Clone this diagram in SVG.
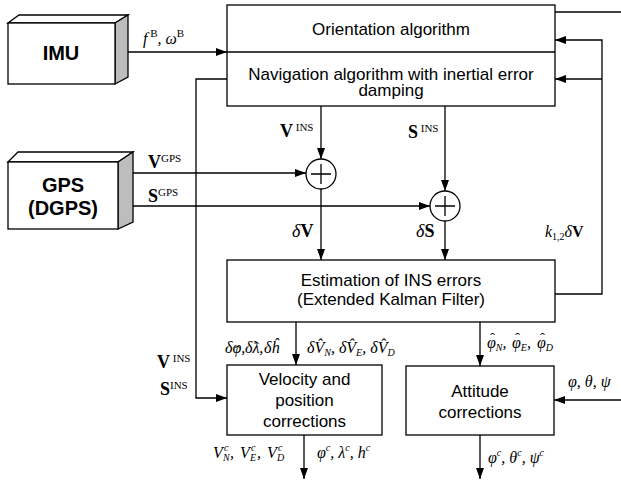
<svg xmlns="http://www.w3.org/2000/svg" width="621" height="483" viewBox="0 0 621 483">
<defs>
<marker id="ah" markerWidth="11" markerHeight="8" refX="11" refY="4" orient="auto" markerUnits="userSpaceOnUse"><path d="M0,0 L11,4 L0,8 z" fill="#000"/></marker>
<style>
.box{fill:#fff;stroke:#000;stroke-width:1.3}
.side{fill:#bdbdbd;stroke:#000;stroke-width:1.3}
.ln{fill:none;stroke:#000;stroke-width:1.3}
.arr{fill:none;stroke:#000;stroke-width:1.3;marker-end:url(#ah)}
.t{font-family:"Liberation Sans",Arial,sans-serif;font-size:17px;text-anchor:middle;fill:#000}
.b{font-family:"Liberation Sans",Arial,sans-serif;font-size:20px;font-weight:bold;text-anchor:middle;fill:#000}
.m{font-family:"Liberation Serif","Times New Roman",serif;font-size:16px;font-style:italic;fill:#000}
.mb{font-family:"Liberation Serif","Times New Roman",serif;font-size:18px;font-weight:bold;fill:#000}
.hat{font-size:15px;font-style:normal}
.sup{font-size:11px;font-style:normal;font-weight:normal}
.sub{font-size:10px}
</style>
</defs>
<g id="connectors">
<line class="arr" x1="123" y1="52" x2="227" y2="52"/>
<polyline class="ln" points="555,12 621,12"/>
<polyline class="arr" points="555,294 602,294 602,40 555,40"/>
<line class="arr" x1="602" y1="79" x2="555" y2="79"/>
<polyline class="arr" points="227,79 196,79 196,398 227,398"/>
<line class="arr" x1="321" y1="106" x2="321" y2="159"/>
<line class="arr" x1="445" y1="106" x2="445" y2="191"/>
<line class="arr" x1="125" y1="173" x2="306" y2="173"/>
<line class="arr" x1="125" y1="206" x2="430" y2="206"/>
<line class="arr" x1="321" y1="189" x2="321" y2="260"/>
<line class="arr" x1="445" y1="221" x2="445" y2="260"/>
<line class="arr" x1="296" y1="322" x2="296" y2="365"/>
<line class="arr" x1="480" y1="322" x2="480" y2="366"/>
<line class="arr" x1="621" y1="400" x2="554" y2="400"/>
<line class="arr" x1="304" y1="435" x2="304" y2="479"/>
<line class="arr" x1="480" y1="435" x2="480" y2="479"/>
</g>
<g id="imu">
<polygon class="box" points="8,23 19,15 128,15 115,23"/>
<polygon class="side" points="115,23 128,15 128,77 115,84"/>
<rect class="box" x="8" y="23" width="107" height="61"/>
<text class="b" x="61" y="60">IMU</text>
</g>
<g id="gps">
<polygon class="box" points="8,162 18,152 133,152 118,162"/>
<polygon class="side" points="118,162 133,152 133,222 118,229"/>
<rect class="box" x="8" y="162" width="110" height="67"/>
<text class="b" x="63" y="192">GPS</text>
<text class="b" x="63" y="215">(DGPS)</text>
</g>
<g id="main">
<rect class="box" x="227" y="5" width="328" height="101"/>
<line class="ln" x1="227" y1="52" x2="555" y2="52"/>
<text class="t" x="391" y="35">Orientation algorithm</text>
<text class="t" x="391" y="80">Navigation algorithm with inertial error</text>
<text class="t" x="391" y="96">damping</text>
</g>
<g id="sum1">
<circle class="box" cx="321" cy="174" r="15"/>
<path class="ln" d="M311,174 H331 M321,164 V184"/>
</g>
<g id="sum2">
<circle class="box" cx="445" cy="206" r="15"/>
<path class="ln" d="M435,206 H455 M445,196 V216"/>
</g>
<g id="ekf">
<rect class="box" x="227" y="260" width="328" height="62"/>
<text class="t" x="391" y="286">Estimation of INS errors</text>
<text class="t" x="391" y="305">(Extended Kalman Filter)</text>
</g>
<g id="velpos">
<rect class="box" x="227" y="365" width="155" height="70"/>
<text class="t" x="304.5" y="385">Velocity and</text>
<text class="t" x="304.5" y="406">position</text>
<text class="t" x="304.5" y="427">corrections</text>
</g>
<g id="attitude">
<rect class="box" x="406" y="366" width="148" height="69"/>
<text class="t" x="480" y="397">Attitude</text>
<text class="t" x="480" y="418">corrections</text>
</g>
<g id="labels">
<text class="m" x="143" y="44" font-size="17">f<tspan class="sup" font-style="italic" dy="-7"> B</tspan><tspan dy="7">, ω</tspan><tspan class="sup" font-style="italic" dy="-7">B</tspan></text>
<text class="mb" x="148" y="168">V<tspan class="sup" dy="-6">GPS</tspan></text>
<text class="mb" x="148" y="202">S<tspan class="sup" dy="-6">GPS</tspan></text>
<text class="mb" x="280" y="137">V<tspan class="sup" dy="-6"> INS</tspan></text>
<text class="mb" x="408" y="138">S<tspan class="sup" dy="-6"> INS</tspan></text>
<text class="mb" x="292" y="237" font-size="20"><tspan font-style="italic" font-weight="normal">δ</tspan>V</text>
<text class="mb" x="416" y="237" font-size="20"><tspan font-style="italic" font-weight="normal">δ</tspan>S</text>
<text class="m" x="545" y="237" font-size="19">k<tspan class="sub" font-size="11" font-style="normal" dy="3">1,2</tspan><tspan dy="-3">δ</tspan><tspan font-weight="bold" font-style="normal">V</tspan></text>
<text class="m" x="225" y="353" font-size="15">δφ,<tspan class="hat" x="235" y="356">ˆ</tspan><tspan x="245" y="353">δλ,</tspan><tspan class="hat" x="254" y="352">ˆ</tspan><tspan x="264" y="353">δĥ</tspan></text>
<text class="m" x="307" y="353" font-size="15">δV̂<tspan class="sub" dy="3">N</tspan><tspan dy="-3">, δV̂</tspan><tspan class="sub" dy="3">E</tspan><tspan dy="-3">, δV̂</tspan><tspan class="sub" dy="3">D</tspan></text>
<text class="m" x="487" y="348" font-size="17">φ<tspan class="sub" font-size="11" dy="3">N</tspan><tspan dy="-3">,</tspan><tspan class="hat" font-size="16" x="490" y="343">ˆ</tspan><tspan x="512" y="348">φ</tspan><tspan class="sub" font-size="11" dy="3">E</tspan><tspan dy="-3">,</tspan><tspan class="hat" font-size="16" x="515" y="343">ˆ</tspan><tspan x="537" y="348">φ</tspan><tspan class="sub" font-size="11" dy="3">D</tspan><tspan class="hat" font-size="16" x="540" y="343">ˆ</tspan></text>
<text class="mb" x="157" y="368">V<tspan class="sup" dy="-6"> INS</tspan></text>
<text class="mb" x="160" y="395">S<tspan class="sup" dy="-6">INS</tspan></text>
<text class="m" x="568" y="387" font-size="17">φ, θ, ψ</text>
<text class="m" x="213" y="458" font-size="16">V<tspan class="sub" x="224" y="451">c</tspan><tspan class="sub" x="223" y="461">N</tspan><tspan x="230" y="458">,</tspan></text>
<text class="m" x="240" y="458" font-size="16">V<tspan class="sub" x="251" y="451">c</tspan><tspan class="sub" x="250" y="461">E</tspan><tspan x="257" y="458">,</tspan></text>
<text class="m" x="267" y="458" font-size="16">V<tspan class="sub" x="278" y="451">c</tspan><tspan class="sub" x="277" y="461">D</tspan></text>
<text class="m" x="317" y="458" font-size="17">φ<tspan class="sub" dy="-7">c</tspan><tspan dy="7">, λ</tspan><tspan class="sub" dy="-7">c</tspan><tspan dy="7">, h</tspan><tspan class="sub" dy="-7">c</tspan></text>
<text class="m" x="488" y="463" font-size="18">φ<tspan class="sub" font-size="11" dy="-7">c</tspan><tspan dy="7">, θ</tspan><tspan class="sub" font-size="11" dy="-7">c</tspan><tspan dy="7">, ψ</tspan><tspan class="sub" font-size="11" dy="-7">c</tspan></text>
</g>
</svg>
